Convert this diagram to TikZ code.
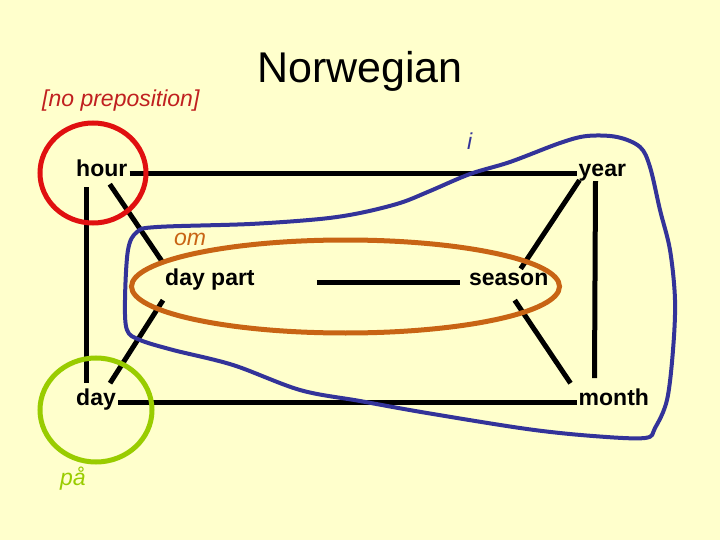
\documentclass[tikz,border=0pt]{standalone}
\usepackage{fontspec}
\setmainfont{Liberation Sans}
\usetikzlibrary{positioning}
\definecolor{paper}{HTML}{FFFFCC}
\definecolor{ringred}{HTML}{E01010}
\definecolor{textred}{HTML}{C02020}
\definecolor{ringgreen}{HTML}{99CC00}
\definecolor{ringorange}{HTML}{C86414}
\definecolor{penblue}{HTML}{333399}

\begin{document}
\begin{tikzpicture}[x=1pt, y=-1pt,
word/.style={inner sep=2pt, text height=14pt, text depth=8pt, font=\fontsize{23}{27}\selectfont\bfseries},
prep/.style={inner sep=0pt, anchor=base west, font=\fontsize{23}{27}\selectfont\itshape},
link/.style={line width=5pt},
circ/.style={line width=5pt},
hand/.style={line width=4pt, penblue, line join=round},
]

\fill[paper] (0,0) rectangle (720,540);
\useasboundingbox (0,0) rectangle (720,540);

% Title
\node[inner sep=0pt, anchor=base, font=\fontsize{43}{50}\selectfont] (title) at (360,83) {Norwegian};

% Words
\node[word, anchor=base west] (hour) at (74,177) {hour};
\node[word, right=447pt of hour] (year) {year};
\node[word, below=202pt of hour.south west, anchor=north west] (day) {day};
\node[word, below=202pt of year.south west, anchor=north west] (month) {month};
\node[word, anchor=base west] (daypart) at (163,285) {day part};
\node[word, right=210pt of daypart] (season) {season};

% Prepositions
\node[prep, textred] (none) at (42,107) {[no preposition]};
\node[prep, penblue] (i) at (467,150) {i};
\node[prep, ringorange] (om) at (174,245) {om};
\node[prep, ringgreen] (paa) at (60,485) {på};

% Links
\draw[link] (hour) -- (year);
\draw[link] (day) -- (month);
\draw[link] ([xshift=12pt]hour.south west) -- ([xshift=12pt,yshift=6pt]day.north west);
\draw[link] ([xshift=19pt,yshift=6pt]year.south west) -- ([xshift=18pt,yshift=11pt]month.north west);
\draw[link] ([xshift=8pt,yshift=3pt]hour.south) -- ([yshift=6pt]daypart.north west);
\draw[link] ([yshift=-5pt]daypart.south west) -- ([xshift=14pt,yshift=6pt]day.north);
\draw[link, shorten <=60pt, shorten >=7pt] (daypart) -- (season);
\draw[link] ([xshift=12pt,yshift=0pt]season.north) -- ([xshift=3pt,yshift=7pt]year.south west);
\draw[link] ([xshift=6pt,yshift=-5pt]season.south) -- ([xshift=-6pt,yshift=6pt]month.north west);

% Rings
\draw[circ, ringred] (93,173) ellipse [x radius=53pt, y radius=50pt];
\draw[circ, ringgreen] (96,410) ellipse [x radius=56pt, y radius=52pt];
\draw[circ, ringorange] (345.5,286.5) ellipse [x radius=214pt, y radius=46.5pt];

% Hand-drawn loop
\draw[hand] plot[smooth cycle, tension=0.55] coordinates {
(137,232) (157,227) (250,224) (320,219) (360,213) (400,203) (430,191)
(470,174) (510,162) (560,143) (587,136) (617,137) (640,147) (650,167)
(660,210) (670,250) (675,300) (673,350) (667,400) (655,428) (645,438)
(593,436) (527,429) (427,413) (360,401) (300,390) (233,365) (173,350)
(140,340) (127,330) (125,300) (128,250)};

\end{tikzpicture}
\end{document}
